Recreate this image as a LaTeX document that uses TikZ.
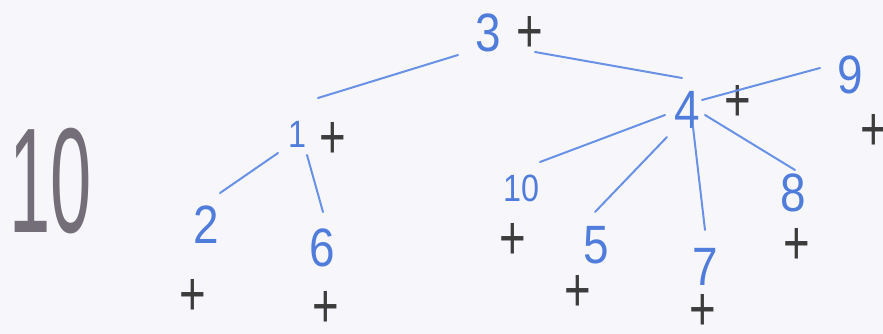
\documentclass[tikz,border=0pt]{standalone}
\usepackage{fontspec}
\setmainfont{Liberation Sans}
\usetikzlibrary{calc}
\definecolor{inkblue}{RGB}{80,125,220}
\definecolor{lineblue}{RGB}{105,145,230}
\definecolor{inkgray}{RGB}{60,60,60}
\definecolor{biggray}{RGB}{115,110,120}
\definecolor{paper}{RGB}{247,247,251}
\tikzset{
  num/.style={text=inkblue, inner sep=0pt, font=\fontsize{54}{54}\selectfont},
  smallnum/.style={num, font=\fontsize{38}{38}\selectfont},
  crossmark/.style={text=inkgray, inner sep=0pt, font=\fontsize{48}{48}\selectfont},
  edge/.style={draw=lineblue, line width=2pt, line cap=round},
}
\newcommand{\crs}{\scalebox{0.95}[1.3]{+}}
\newcommand{\dg}[1]{\scalebox{0.85}[1]{#1}}
\begin{document}
\begin{tikzpicture}[x=1pt,y=-1pt]
\fill[paper] (0,0) rectangle (883,334);
\useasboundingbox (0,0) rectangle (883,334);
% big label
\node[text=biggray, inner sep=0pt, font=\fontsize{130}{130}\selectfont] (big) at (51,181) {\scalebox{0.57}[1.15]{10}};
% tree nodes
\node[num] (n3) at (488,33) {\dg{3}};
\node[crossmark] (c3) at (530,34) {\crs};
\node[smallnum] (n1) at (297,134) {\dg{1}};
\node[crossmark] (c1) at (333,140) {\crs};
\node[num] (n2) at (206,225) {\dg{2}};
\node[num] (n6) at (322,248) {\dg{6}};
\node[crossmark] (c2) at (193,297) {\crs};
\node[crossmark] (c6) at (326,309) {\crs};
\node[num] (n4) at (687,110) {\dg{4}};
\node[crossmark] (c4) at (738,103) {\crs};
\node[num] (n9) at (850,75) {\dg{9}};
\node[crossmark] (c9) at (874,132) {\crs};
\node[smallnum] (n10) at (521,188) {\dg{10}};
\node[crossmark] (c10) at (513,241) {\crs};
\node[num] (n5) at (596,245) {\dg{5}};
\node[crossmark] (c5) at (578,293) {\crs};
\node[num] (n7) at (705,267) {\dg{7}};
\node[crossmark] (c7) at (703,312) {\crs};
\node[num] (n8) at (793,193) {\dg{8}};
\node[crossmark] (c8) at (797,246) {\crs};
% edges
\draw[edge] ($(n3)+(-30,22)$) -- ($(n1)+(21,-36)$);
\draw[edge] ($(n3)+(47,19)$) -- ($(n4)+(-5,-32)$);
\draw[edge] ($(n1)+(-19,19)$) -- ($(n2)+(14,-32)$);
\draw[edge] ($(n1)+(10,21)$) -- ($(n6)+(1,-36)$);
\draw[edge] ($(n4)+(15,-10)$) -- ($(n9)+(-30,-7)$);
\draw[edge] ($(n4)+(-22,5)$) -- ($(n10)+(19,-26)$);
\draw[edge] ($(n4)+(-20,27)$) -- ($(n5)+(-1,-33)$);
\draw[edge] ($(n4)+(6,17)$) -- ($(n7)+(0,-37)$);
\draw[edge] ($(n4)+(18,5)$) -- ($(n8)+(2,-23)$);
\end{tikzpicture}
\end{document}
